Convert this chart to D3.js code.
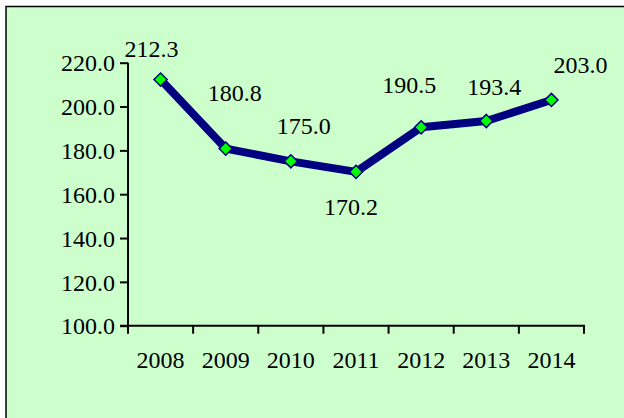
<!DOCTYPE html>
<html><head><meta charset="utf-8">
<script src="https://cdn.jsdelivr.net/npm/d3@7"></script>
<style>html,body{margin:0;padding:0;background:#fff;overflow:hidden}
svg text{font-family:"Liberation Serif","Times New Roman","DejaVu Serif",serif !important;font-size:24px;fill:#000}</style>
</head><body>
<svg id="c" width="624" height="418"></svg>
<script>
const years = ["2008","2009","2010","2011","2012","2013","2014"];
const values = [212.3, 180.8, 175.0, 170.2, 190.5, 193.4, 203.0];
const yTicks = [100, 120, 140, 160, 180, 200, 220];
// label placement offsets (dx, dy of baseline relative to point)
const labelDx = [-9, 9, 13, -5, -12, 8, 29];
const labelDy = [-23, -48, -27, 43, -34, -26, -27];

const svg = d3.select("#c");

svg.append("rect").attr("x", 6).attr("y", 6.5).attr("width", 640).attr("height", 440)
  .attr("fill", "#CCFFCC").attr("stroke", "#000").attr("stroke-width", 1.5);

const x = d3.scaleBand().domain(years).range([128, 584]);
const y = d3.scaleLinear().domain([100, 220]).range([325.7, 62.7]);

const yAxis = svg.append("g").attr("transform", "translate(128,0)")
  .call(d3.axisLeft(y).tickValues(yTicks).tickFormat(d3.format(".1f")).tickSize(8).tickPadding(5));
yAxis.attr("font-family", null).attr("font-size", null);
yAxis.select(".domain").attr("stroke", "#000").attr("stroke-width", 2).attr("d", `M0,${y(220)}V${y(100)}`);
yAxis.selectAll(".tick line").attr("stroke", "#000").attr("stroke-width", 2);
yAxis.selectAll(".tick text").attr("dy", "0.34em");

const xAxis = svg.append("g").attr("transform", `translate(0,${y(100)})`)
  .call(d3.axisBottom(x).tickSize(0).tickPadding(0));
xAxis.attr("font-family", null).attr("font-size", null);
xAxis.select(".domain").attr("stroke", "#000").attr("stroke-width", 2).attr("d", "M120,0H585");
xAxis.selectAll(".tick text").attr("y", 42).attr("dy", 0);
const bounds = years.map(d => x(d)).concat([x.range()[1]]);
svg.append("g").selectAll("line").data(bounds).join("line")
  .attr("x1", d => d).attr("x2", d => d)
  .attr("y1", y(100)).attr("y2", y(100) + 8)
  .attr("stroke", "#000").attr("stroke-width", 2);

const cx = d => x(d) + x.bandwidth() / 2;
const line = d3.line().x((d, i) => cx(years[i])).y(d => y(d));
svg.append("path").datum(values).attr("d", line)
  .attr("fill", "none").attr("stroke", "#000080").attr("stroke-width", 8).attr("stroke-linejoin", "round");

svg.append("g").selectAll("path").data(values).join("path")
  .attr("transform", (d, i) => `translate(${cx(years[i])},${y(d)})`)
  .attr("d", d3.symbol(d3.symbolDiamond2, 110))
  .attr("fill", "#00FF00").attr("stroke", "#000080").attr("stroke-width", 1.5);

svg.append("g").selectAll("text").data(values).join("text")
  .attr("x", (d, i) => cx(years[i]) + labelDx[i])
  .attr("y", (d, i) => y(d) + labelDy[i])
  .attr("text-anchor", "middle")
  .text(d => d.toFixed(1));
</script>
</body></html>
